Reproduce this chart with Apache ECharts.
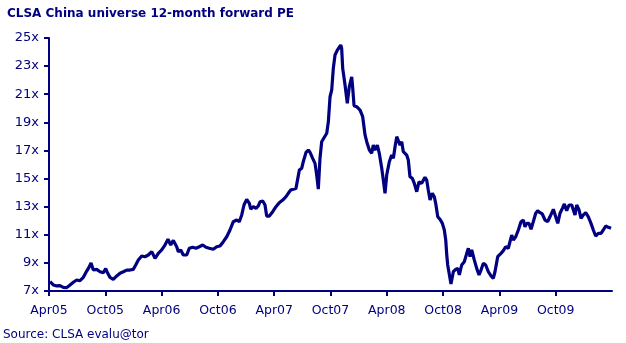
<!DOCTYPE html>
<html>
<head>
<meta charset="utf-8">
<script src="https://cdn.jsdelivr.net/npm/echarts@6/dist/echarts.min.js"></script>
<style>
html,body{margin:0;padding:0;background:#fff;}
#c{width:626px;height:343px;}
</style>
</head>
<body>
<div id="c"></div>
<script>
// x positions in months since Apr 2005
var months = [0.11,0.46,0.82,1.17,1.52,1.89,2.24,2.59,2.95,3.30,3.66,4.02,4.26,4.48,4.72,5.08,5.44,5.79,6.04,6.26,6.50,6.85,7.22,7.57,7.92,8.28,8.63,8.98,9.24,9.52,9.88,10.23,10.58,10.95,11.30,11.65,12.01,12.36,12.68,12.97,13.25,13.43,13.61,13.78,14.04,14.31,14.68,14.95,15.31,15.67,16.02,16.38,16.73,17.08,17.51,17.87,18.22,18.58,18.94,19.29,19.64,20.00,20.28,20.54,20.78,21.07,21.35,21.50,21.77,22.06,22.31,22.49,22.78,23.02,23.20,23.48,23.84,24.19,24.54,24.91,25.26,25.50,25.76,25.97,26.32,26.68,26.93,27.10,27.39,27.64,27.82,28.10,28.35,28.53,28.70,28.88,29.06,29.31,29.60,29.77,29.95,30.13,30.30,30.48,30.73,31.09,31.19,31.30,31.55,31.79,32.00,32.26,32.37,32.51,32.79,33.15,33.43,33.68,33.86,34.14,34.39,34.56,34.74,34.99,35.20,35.46,35.63,35.81,35.99,36.27,36.52,36.70,36.88,37.06,37.23,37.41,37.59,37.76,38.12,38.29,38.47,38.72,38.93,39.19,39.43,39.72,40.07,40.25,40.42,40.61,40.85,41.06,41.21,41.43,41.67,41.92,42.13,42.28,42.39,42.49,42.66,42.84,43.09,43.34,43.56,43.73,43.98,44.26,44.52,44.69,44.87,45.05,45.33,45.58,45.83,46.04,46.29,46.54,46.82,47.11,47.35,47.53,47.82,48.17,48.42,48.67,48.95,49.13,49.31,49.48,49.74,50.02,50.30,50.55,50.73,50.91,51.16,51.37,51.61,51.87,52.08,52.33,52.57,52.86,53.15,53.39,53.75,54.00,54.22,54.46,54.71,54.92,55.17,55.42,55.71,55.88,56.06,56.24,56.49,56.70,56.95,57.20,57.48,57.76,58.01,58.26,58.54,58.83,59.07,59.33,59.61,59.90];
// forward PE (x)
var pe = [7.66,7.43,7.36,7.38,7.26,7.24,7.43,7.62,7.78,7.73,7.97,8.42,8.68,9.0,8.49,8.54,8.37,8.30,8.59,8.26,7.97,7.83,8.07,8.26,8.37,8.49,8.49,8.54,8.85,9.20,9.49,9.44,9.56,9.80,9.32,9.68,9.92,10.27,10.68,10.27,10.6,10.68,10.15,9.80,9.92,9.56,9.56,10.04,10.11,10.04,10.15,10.27,10.11,10.04,9.97,10.15,10.20,10.51,10.86,11.34,11.93,12.05,11.93,12.41,13.12,13.52,13.24,12.83,13.0,12.88,13.05,13.35,13.40,13.12,12.33,12.33,12.64,13.0,13.28,13.47,13.71,13.95,14.18,14.06,14.30,15.6,15.73,16.2,16.86,17.03,16.86,16.44,16.08,15.25,14.25,16.44,17.62,17.9,18.22,19.04,20.82,21.3,22.84,23.79,24.14,24.5,24.26,22.84,21.65,20.35,21.53,22.24,21.42,20.18,20.11,19.87,19.4,18.1,17.62,17.03,16.8,17.38,17.03,17.38,16.8,15.73,14.89,13.95,15.25,16.2,16.67,16.44,17.27,17.98,18.1,17.38,17.62,16.91,16.67,16.32,15.13,15.01,14.66,14.06,14.77,14.66,15.09,14.89,14.18,13.47,13.95,13.71,13.24,12.28,12.1,11.81,11.34,10.63,9.56,8.85,8.73,7.5,8.37,8.54,8.61,8.14,8.85,9.08,9.68,10.04,9.44,9.92,9.2,8.61,8.14,8.49,8.97,8.85,8.37,8.07,7.90,8.37,9.44,9.68,9.87,10.15,10.04,10.15,10.98,10.63,10.86,11.34,11.93,12.05,11.57,11.81,11.81,11.39,11.93,12.53,12.71,12.57,12.48,12.05,11.93,12.28,12.81,12.28,11.81,12.53,12.88,13.19,12.71,13.12,13.12,12.76,12.41,13.12,12.76,12.17,12.41,12.57,12.28,11.81,11.34,10.91,11.1,11.1,11.34,11.62,11.53,11.46];
var xTickMonths = [0,6,12,18,24,30,36,42,48,54];
var xTickLabels = ['Apr05','Oct05','Apr06','Oct06','Apr07','Oct07','Apr08','Oct08','Apr09','Oct09'];
var titleText = 'CLSA China universe 12-month forward PE';
var sourceText = 'Source: CLSA evalu@tor';

var navy = '#000080';
var font = '"DejaVu Sans", Verdana, sans-serif';
var chart = echarts.init(document.getElementById('c'), null, {renderer:'canvas'});
var seriesData = months.map(function(m,i){return [m, pe[i]];});
chart.setOption({
  animation:false,
  title:{text:titleText,left:2,top:3,textStyle:{color:navy,fontFamily:font,fontWeight:'bold',fontSize:12}},
  graphic:[{type:'text',left:3,top:329,style:{text:sourceText,fill:navy,font:'12px '+font}}],
  grid:{left:49,right:14,top:38,bottom:52,containLabel:false},
  xAxis:{type:'value',min:0,max:60,interval:6,
    axisLine:{show:true,lineStyle:{color:navy,width:2}},
    axisTick:{show:true,length:5,lineStyle:{color:navy,width:2},customValues:xTickMonths},
    axisLabel:{color:navy,fontFamily:font,fontSize:12.5,margin:13,customValues:xTickMonths,
      formatter:function(v){var i=xTickMonths.indexOf(v);return i>=0?xTickLabels[i]:'';}},
    splitLine:{show:false}},
  yAxis:{type:'value',min:7,max:25,interval:2,
    axisLine:{show:true,lineStyle:{color:navy,width:2}},
    axisTick:{show:true,length:5,lineStyle:{color:navy,width:2}},
    axisLabel:{color:navy,fontFamily:font,fontSize:13,margin:10,formatter:'{value}x'},
    splitLine:{show:false}},
  series:[{type:'line',data:seriesData,showSymbol:false,smooth:false,
    lineStyle:{color:navy,width:3.2},itemStyle:{color:navy}}]
});
</script>
</body>
</html>
